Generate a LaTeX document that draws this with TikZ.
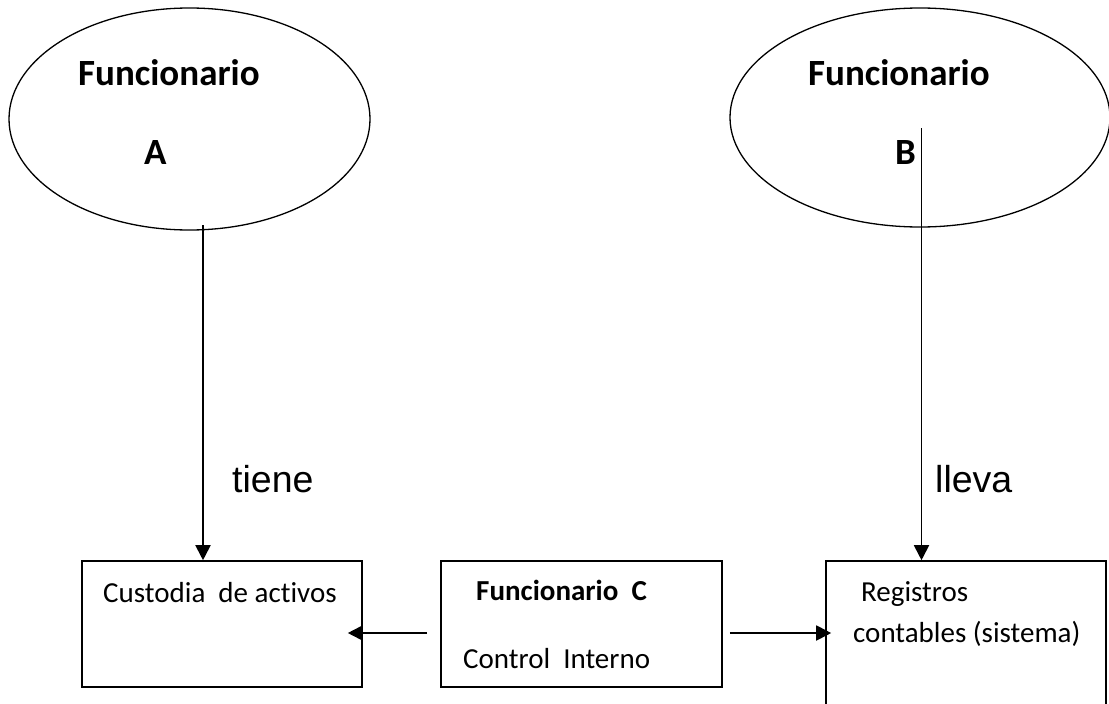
\documentclass[tikz,border=0pt]{standalone}
\usepackage{fontspec}
\setmainfont[Ligatures=NoCommon]{Carlito}
\newfontfamily\arialfont{Liberation Sans}
\usetikzlibrary{arrows.meta,positioning,shapes.geometric}

\begin{document}
\begin{tikzpicture}[
  x=1pt, y=-1pt,
  every node/.style={inner sep=0pt},
  txt/.style={anchor=base west, font=\fontsize{29}{33}\selectfont},
  ttl/.style={anchor=base west, font=\fontsize{37}{41}\selectfont\bfseries},
  lbl/.style={anchor=base west, font=\fontsize{37.5}{42}\selectfont\arialfont},
  caja/.style={draw, line width=1.6pt, minimum width=280pt},
  arr/.style={-{Triangle[length=15pt,width=15pt]}, line width=1.9pt},
]
\clip (0,0) rectangle (1109,704);

% Funcionarios (ellipses)
\node[draw, ellipse, line width=1.3pt, minimum width=361pt, minimum height=222pt]
      (funA) at (189.5,119) {};
\node[draw, ellipse, line width=1.3pt, minimum width=380pt, minimum height=219pt]
      (funB) at (920,117.5) {};
\node[ttl] (funAt) at (78,85) {Funcionario};
\node[ttl] (funAl) at (144,164) {A};
\node[ttl] (funBt) at (808,85) {Funcionario};
\node[ttl] (funBl) at (895,164) {B};

% Boxes
\node[caja, minimum height=126pt] (custodia) at (222,624) {};
\node[caja, minimum width=281pt, minimum height=126pt] (control) at (581.5,624) {};
\node[caja, minimum height=170pt] (registros) at (966,646) {};
\node[txt] (custt) at (103,602) {Custodia\ \ de activos};
\node[txt, font=\fontsize{29}{33}\selectfont\bfseries] (contt) at (476,600) {Funcionario\ \ C};
\node[txt] (contl) at (463,668) {Control\ \ Interno};
\node[txt] (regt) at (861,601) {Registros};
\node[txt] (regl) at (853,642) {contables (sistema)};

% Labels
\node[lbl] (tiene) at (232,492) {tiene};
\node[lbl] (lleva) at (935,492) {lleva};

% Arrows
\coordinate (a0) at (203,225);
\coordinate (b0) at (921.5,128);
\coordinate (c0) at ([yshift=-9pt]control.west);
\coordinate (r0) at ([yshift=-9pt]control.east);
\draw[arr] (a0) -- (a0 |- custodia.north);
\draw[arr] (b0) -- (b0 |- registros.north);
\draw[arr, shorten <=13pt, shorten >=-15pt] (c0) -- (custodia.east |- c0);
\draw[arr, shorten <=7pt, shorten >=-6pt] (r0) -- (registros.west |- r0);

\end{tikzpicture}
\end{document}
